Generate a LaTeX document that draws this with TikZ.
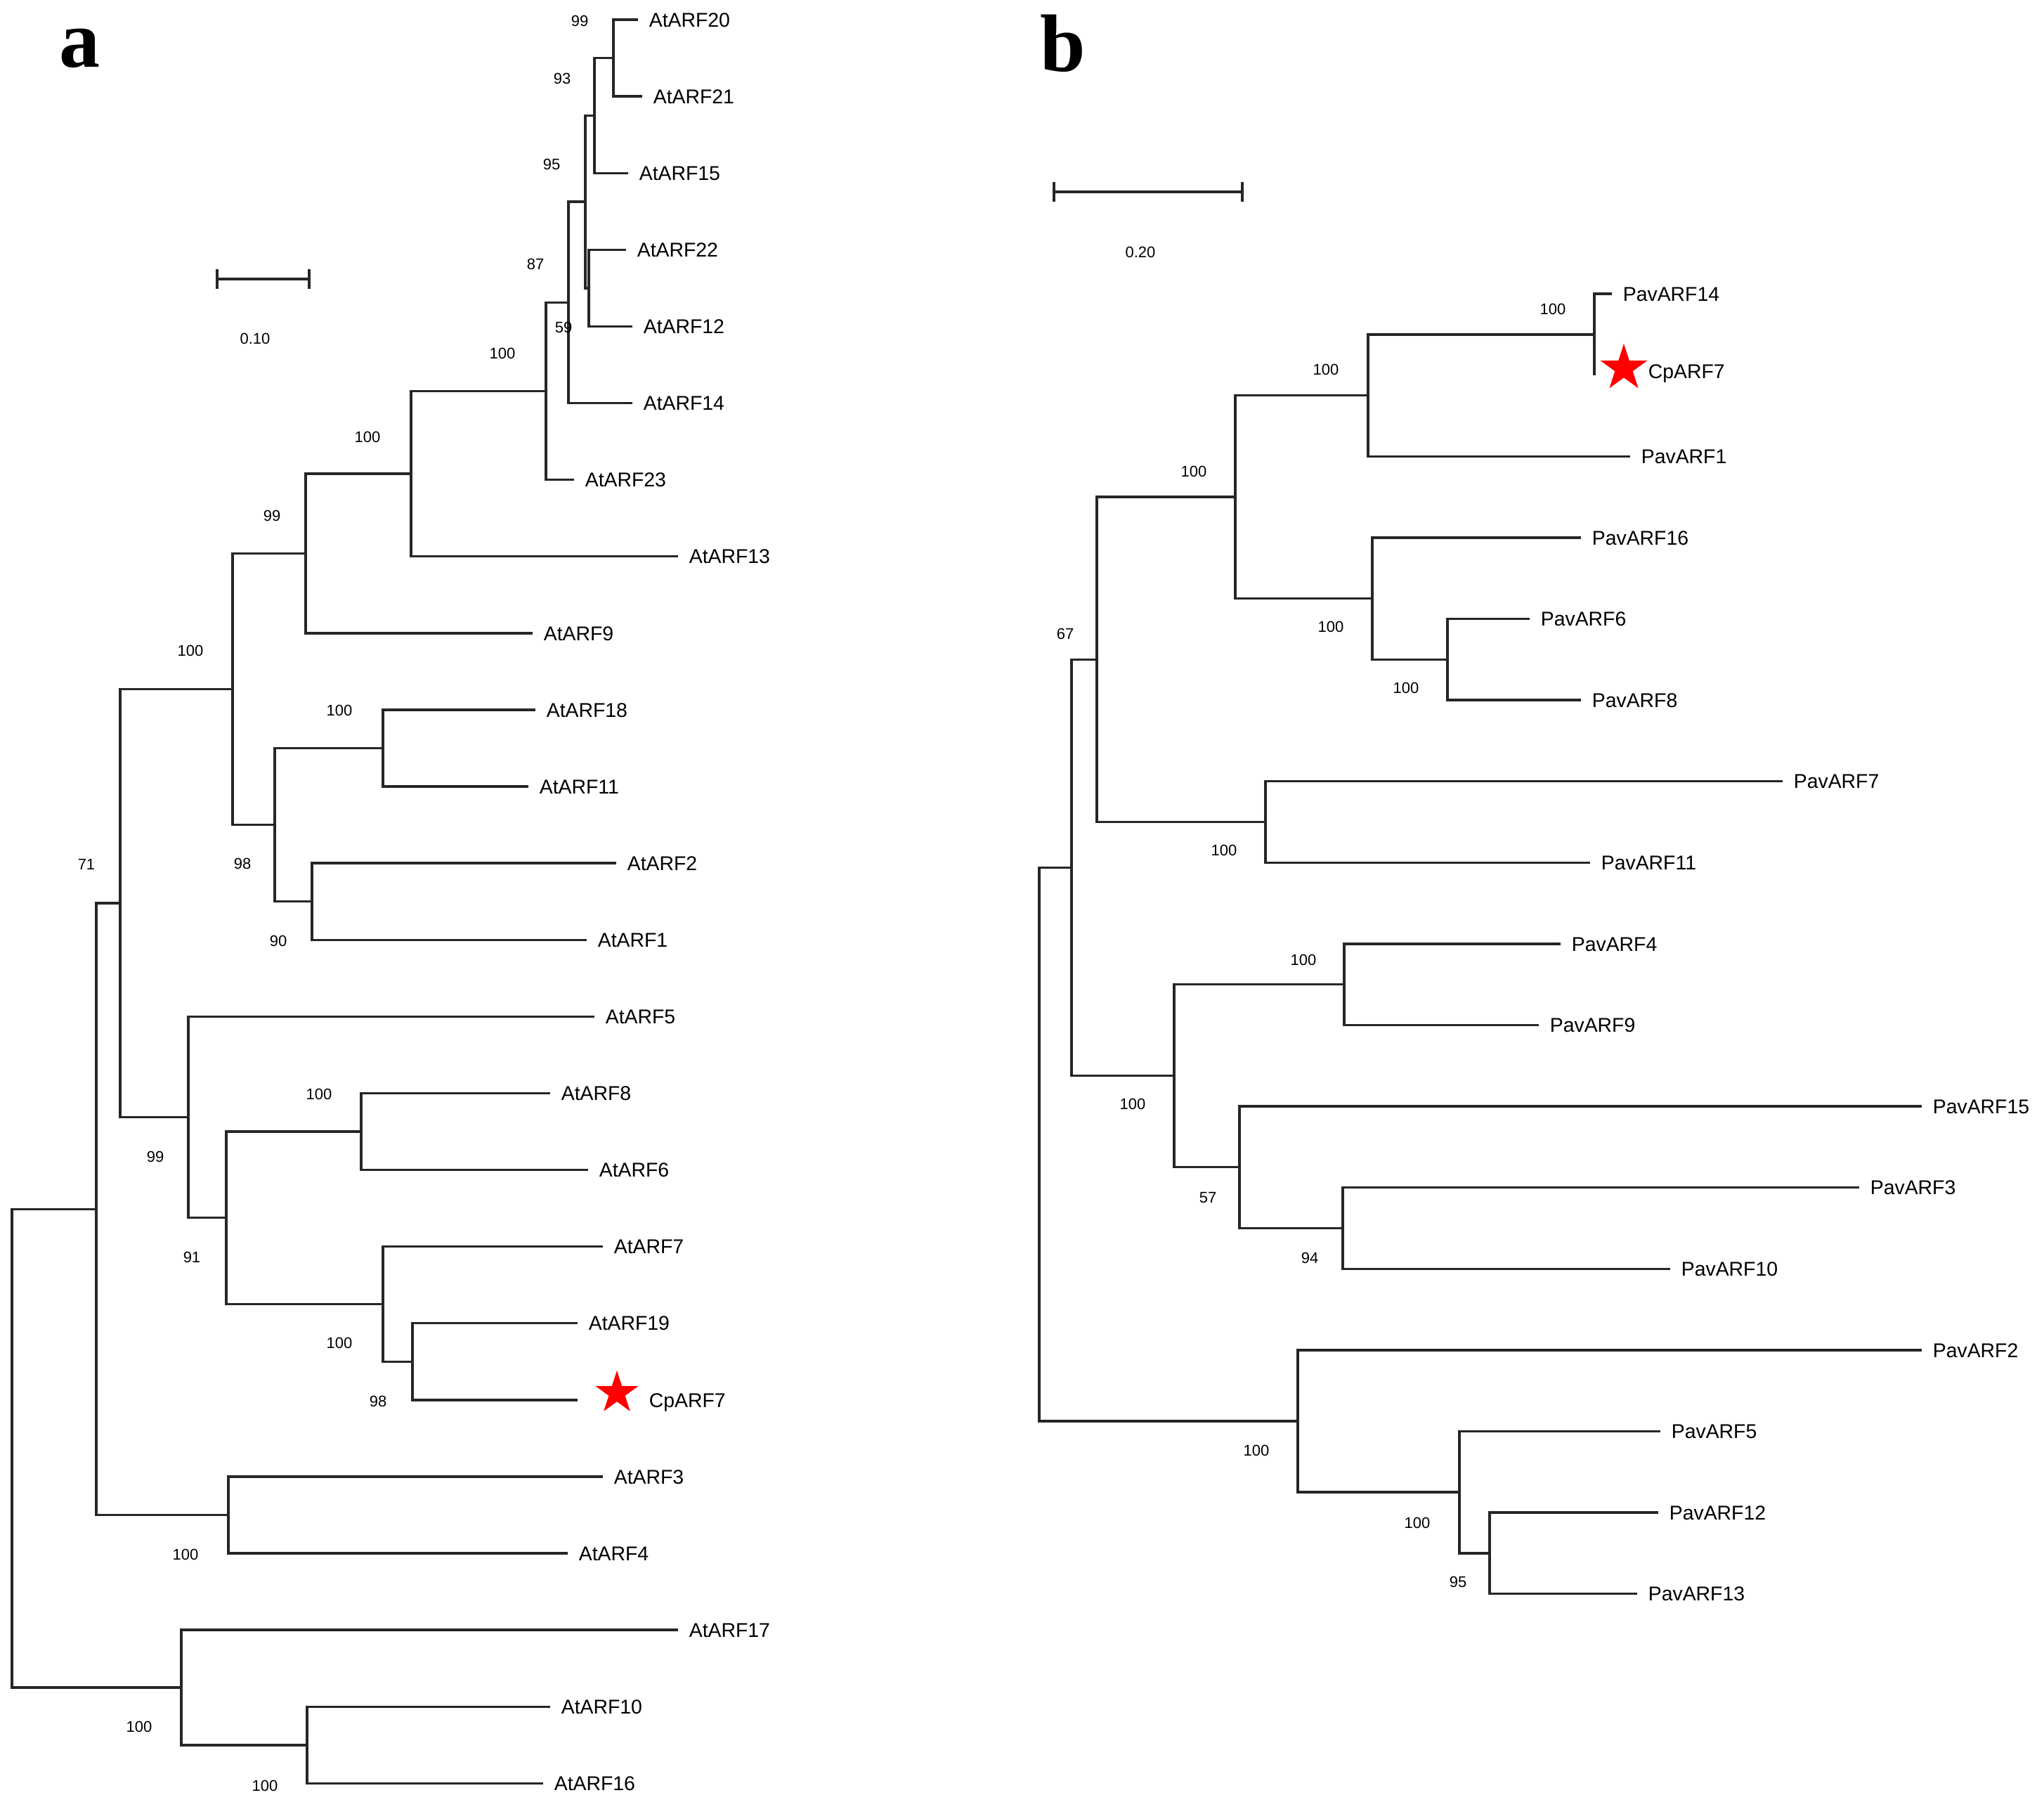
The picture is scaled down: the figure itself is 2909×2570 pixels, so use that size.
\documentclass[tikz,border=0pt]{standalone}
\usepackage{fontspec}
\setmainfont{Liberation Sans}
\newfontfamily\panelfont{Liberation Serif}
\begin{document}
\begin{tikzpicture}[x=0.25pt,y=-0.25pt,
  br/.style={draw=black!85, line width=0.85pt},
  leaflab/.style={anchor=base west, inner sep=0pt, yshift=-2.55pt, font=\fontsize{7.1}{8}\selectfont},
  boot/.style={inner sep=0pt, font=\fontsize{5.5}{6}\selectfont},
  panellab/.style={anchor=base west, inner sep=0pt, font=\panelfont\bfseries\fontsize{29}{29}\selectfont},
  scalebar/.style={draw=black!85, line width=0.85pt},
  starfill/.style={fill=red}]
\useasboundingbox (0,0) rectangle (2909,2570);

% ---------------- panel labels ----------------
\node[panellab] (pa) at (84,95) {a};
\node[panellab] (pb) at (1480,101) {b};

% ---------------- scale bars ----------------
\coordinate (sa1) at (309,397); \coordinate (sa2) at (440,397);
\draw[scalebar] (sa1) -- (sa2);
\draw[scalebar] ([yshift=3.5pt]sa1) -- ([yshift=-3.5pt]sa1);
\draw[scalebar] ([yshift=3.5pt]sa2) -- ([yshift=-3.5pt]sa2);
\node[boot] (sal) at (363,482) {0.10};
\coordinate (sb1) at (1500,273); \coordinate (sb2) at (1768,273);
\draw[scalebar] (sb1) -- (sb2);
\draw[scalebar] ([yshift=3.6pt]sb1) -- ([yshift=-3.6pt]sb1);
\draw[scalebar] ([yshift=3.6pt]sb2) -- ([yshift=-3.6pt]sb2);
\node[boot] (sbl) at (1623,359) {0.20};

% ---------------- panel a leaves ----------------
\foreach \nm/\y/\e in {AtARF20/28/908, AtARF21/137.1/914, AtARF15/246.2/894,
  AtARF22/355.3/891, AtARF12/464.4/900, AtARF14/573.5/900, AtARF23/682.6/817,
  AtARF13/791.7/965, AtARF9/900.8/758, AtARF18/1009.9/762, AtARF11/1119/752,
  AtARF2/1228.1/877, AtARF1/1337.2/835, AtARF5/1446.3/846, AtARF8/1555.4/783,
  AtARF6/1664.5/837, AtARF7/1773.6/858, AtARF19/1882.7/822, AtARF3/2100.9/858,
  AtARF4/2210/808, AtARF17/2319.1/965, AtARF10/2428.2/783, AtARF16/2537.3/773}
{
  \coordinate (a-\nm) at (\e,\y);
  \node[leaflab] (la-\nm) at ({\e+15},\y) {\nm};
}
\coordinate (a-Cp) at (822,1991.8);
\node[leaflab] (la-Cp) at (923,1991.8) {CpARF7};

% ---------------- panel a internal nodes ----------------
\coordinate (n2021) at (873,82.6);
\coordinate (nX15) at (846,164.4);
\coordinate (n2212) at (838,409.9);
\coordinate (nA) at (833,287.1);
\coordinate (nB) at (809,430.3);
\coordinate (nC) at (777,556.5);
\coordinate (nD) at (585,674.1);
\coordinate (nE) at (435,787.4);
\coordinate (n1811) at (545,1064.5);
\coordinate (n21) at (444,1282.7);
\coordinate (nG) at (391,1173.6);
\coordinate (nE2) at (331,980.5);
\coordinate (n86) at (514,1610);
\coordinate (n19) at (587,1937.3);
\coordinate (nN) at (545,1855.5);
\coordinate (nL) at (322,1732.7);
\coordinate (nK) at (268,1589.5);
\coordinate (nF) at (171,1285);
\coordinate (n34) at (325,2155.5);
\coordinate (nJ) at (137,1720.2);
\coordinate (n1016) at (437,2482.8);
\coordinate (nQ) at (258,2401);
\coordinate (rootA) at (17,2060.6);

\foreach \p/\c in {n2021/a-AtARF20, n2021/a-AtARF21, nX15/n2021, nX15/a-AtARF15,
  n2212/a-AtARF22, n2212/a-AtARF12, nA/nX15, nA/n2212, nB/nA, nB/a-AtARF14,
  nC/nB, nC/a-AtARF23, nD/nC, nD/a-AtARF13, nE/nD, nE/a-AtARF9,
  n1811/a-AtARF18, n1811/a-AtARF11, n21/a-AtARF2, n21/a-AtARF1, nG/n1811, nG/n21,
  nE2/nE, nE2/nG, n86/a-AtARF8, n86/a-AtARF6, n19/a-AtARF19, n19/a-Cp,
  nN/a-AtARF7, nN/n19, nL/n86, nL/nN, nK/a-AtARF5, nK/nL, nF/nE2, nF/nK,
  n34/a-AtARF3, n34/a-AtARF4, nJ/nF, nJ/n34, n1016/a-AtARF10, n1016/a-AtARF16,
  nQ/a-AtARF17, nQ/n1016, rootA/nJ, rootA/nQ}
{
  \draw[br] (\p) |- (\c);
}

% ---------------- panel a bootstrap values ----------------
\foreach \bx/\by/\bv [count=\i] in {825/30/99, 800/112/93, 785/234/95, 762/376/87,
  802/466/59, 715/503/100, 523/622/100, 387/734/99, 271/926/100, 483/1011/100,
  345/1229/98, 396/1339/90, 123/1230/71, 454/1557/100, 221/1646/99, 273/1789/91,
  483/1911/100, 538/1994/98, 264/2212/100, 198/2457/100, 377/2541/100}
{
  \node[boot] (bsa\i) at (\bx,\by) {\bv};
}

% ---------------- panel b leaves ----------------
\foreach \nm/\y/\e in {PavARF14/418/2294, PavARF1/649.2/2320, PavARF16/764.8/2250,
  PavARF6/880.4/2177, PavARF8/996/2250, PavARF7/1111.6/2537, PavARF11/1227.2/2263,
  PavARF4/1342.8/2221, PavARF9/1458.4/2190, PavARF15/1574/2735, PavARF3/1689.6/2646,
  PavARF10/1805.2/2377, PavARF2/1920.8/2735, PavARF5/2036.4/2363,
  PavARF12/2152/2360, PavARF13/2267.6/2330}
{
  \coordinate (b-\nm) at (\e,\y);
  \node[leaflab] (lb-\nm) at ({\e+15},\y) {\nm};
}
\coordinate (b-Cp) at (2269,533.6);
\node[leaflab] (lb-Cp) at (2345,528) {CpARF7};

% ---------------- panel b internal nodes ----------------
\coordinate (b1) at (2269,475.8);
\coordinate (b2) at (1947,562.5);
\coordinate (b3) at (2060,938.2);
\coordinate (b4) at (1953,851.5);
\coordinate (b5) at (1758,707);
\coordinate (b6) at (1801,1169.4);
\coordinate (b7) at (1561,938.2);
\coordinate (b8) at (1913,1400.6);
\coordinate (b9) at (1911,1747.4);
\coordinate (b10) at (1764,1660.7);
\coordinate (b11) at (1671,1530.7);
\coordinate (b12) at (1525,1234.5);
\coordinate (b13) at (2120,2209.8);
\coordinate (b14) at (2077,2123.1);
\coordinate (b15) at (1847,2022);
\coordinate (rootB) at (1479,1628.3);

\foreach \p/\c in {b1/b-PavARF14, b1/b-Cp, b2/b1, b2/b-PavARF1,
  b3/b-PavARF6, b3/b-PavARF8, b4/b-PavARF16, b4/b3, b5/b2, b5/b4,
  b6/b-PavARF7, b6/b-PavARF11, b7/b5, b7/b6, b8/b-PavARF4, b8/b-PavARF9,
  b9/b-PavARF3, b9/b-PavARF10, b10/b-PavARF15, b10/b9, b11/b8, b11/b10,
  b12/b7, b12/b11, b13/b-PavARF12, b13/b-PavARF13, b14/b-PavARF5, b14/b13,
  b15/b-PavARF2, b15/b14, rootB/b12, rootB/b15}
{
  \draw[br] (\p) |- (\c);
}

% ---------------- panel b bootstrap values ----------------
\foreach \bx/\by/\bv [count=\i] in {2210/440/100, 1887/526/100, 1699/671/100,
  1516/902/67, 1894/892/100, 2001/979/100, 1742/1210/100, 1855/1366/100,
  1612/1571/100, 1719/1704/57, 1864/1790/94, 1788/2064/100, 2017/2167/100,
  2075/2251/95}
{
  \node[boot] (bsb\i) at (\bx,\by) {\bv};
}

% ---------------- stars ----------------
\begin{scope}[shift={(878,1982)}]
  \fill[starfill] plot[samples at={0,...,9}] ({-90+36*\x}:{32*(1-0.618*mod(\x,2))}) -- cycle;
\end{scope}
\begin{scope}[shift={(2311,524)}]
  \fill[starfill] plot[samples at={0,...,9}] ({-90+36*\x}:{35*(1-0.618*mod(\x,2))}) -- cycle;
\end{scope}
\end{tikzpicture}
\end{document}
